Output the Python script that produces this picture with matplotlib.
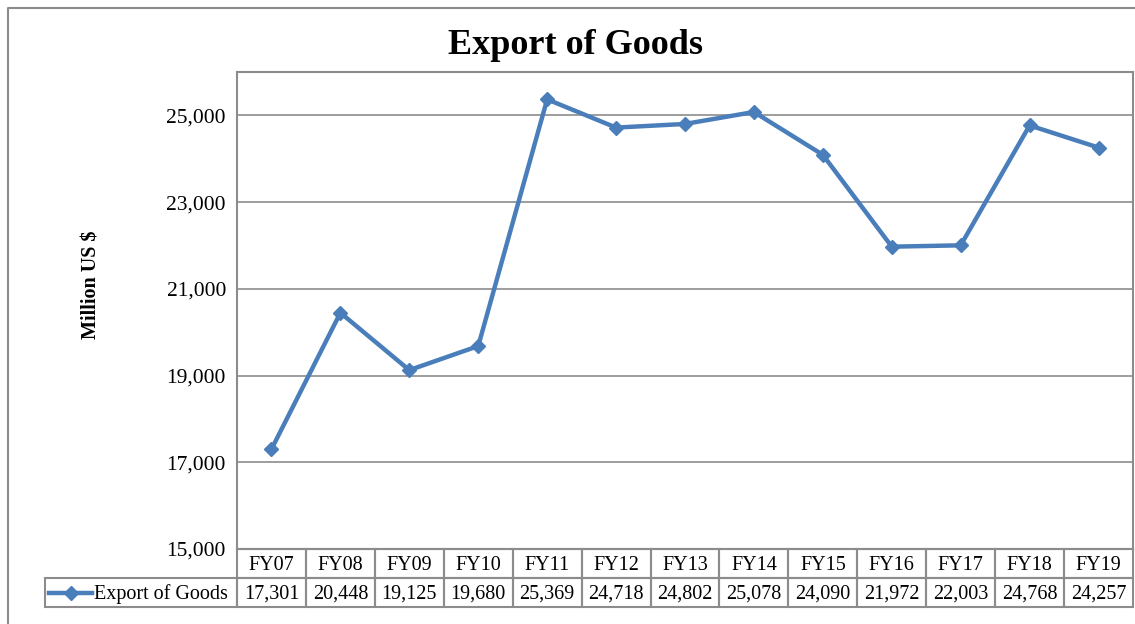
import matplotlib
matplotlib.use("Agg")
import matplotlib.pyplot as plt
from matplotlib.patches import Rectangle
from matplotlib.lines import Line2D
from matplotlib.ticker import FuncFormatter
import matplotlib.transforms as mtransforms

categories = ["FY07", "FY08", "FY09", "FY10", "FY11", "FY12", "FY13",
              "FY14", "FY15", "FY16", "FY17", "FY18", "FY19"]
exports = [17301, 20448, 19125, 19680, 25369, 24718, 24802,
           25078, 24090, 21972, 22003, 24768, 24257]
series_name = "Export of Goods"
title = "Export of Goods"
y_label = "Million US $"
y_ticks = [15000, 17000, 19000, 21000, 23000, 25000]

plt.rcParams['font.family'] = ['Liberation Serif', 'DejaVu Serif']

W, H = 1135, 624
fig = plt.figure(figsize=(W / 100, H / 100), dpi=100)

line_color = "#4a7ebb"
grid_color = "#8c8c8c"
fs = 14.5

# axes position in pixels
left, right, top, bottom = 237, 1133, 72, 549
ax = fig.add_axes([left / W, 1 - bottom / H, (right - left) / W, (bottom - top) / H])

x = list(range(len(categories)))
ax.plot(x, exports, color=line_color, lw=3.2, marker='D', markersize=7.5,
        markerfacecolor=line_color, markeredgecolor=line_color, zorder=3, clip_on=False)

ax.set_xlim(-0.5, len(categories) - 0.5)
ax.set_ylim(15000, 26000)
ax.set_yticks(y_ticks)
ax.yaxis.set_major_formatter(FuncFormatter(lambda v, p: f"{int(v):,}"))
ax.tick_params(axis='y', length=0, pad=8, labelsize=15.5)
ax.set_xticks([])
ax.grid(axis='y', color=grid_color, lw=1.2)
ax.set_axisbelow(True)
for s in ax.spines.values():
    s.set_color(grid_color)
    s.set_linewidth(1.5)

# data table below axes
row_h = 29 / (bottom - top)
dy = 2 / (bottom - top)
trans = mtransforms.blended_transform_factory(ax.transData, ax.transAxes)
cell_kw = dict(fill=False, edgecolor=grid_color, lw=1.5, clip_on=False)
for i, (c, v) in enumerate(zip(categories, exports)):
    ax.add_patch(Rectangle((i - 0.5, -row_h), 1, row_h, transform=trans, **cell_kw))
    ax.add_patch(Rectangle((i - 0.5, -2 * row_h), 1, row_h, transform=trans, **cell_kw))
    ax.text(i, -row_h / 2 - dy, c, transform=trans, ha='center', va='center', fontsize=fs)
    ax.text(i, -1.5 * row_h - dy, f"{v:,}", transform=trans, ha='center', va='center', fontsize=fs)

# legend cell
leg_left = (45 - left) / (right - left)
ax.add_patch(Rectangle((leg_left, -2 * row_h), -leg_left, row_h,
                       transform=ax.transAxes, **cell_kw))
lx0 = (49 - left) / (right - left)
lx1 = (92 - left) / (right - left)
ax.add_line(Line2D([lx0, lx1], [-1.5 * row_h, -1.5 * row_h], transform=ax.transAxes,
                   color=line_color, lw=3.2, clip_on=False))
ax.add_line(Line2D([(lx0 + lx1) / 2], [-1.5 * row_h], transform=ax.transAxes,
                   color=line_color, marker='D', markersize=7.5, clip_on=False))
ax.text((94 - left) / (right - left), -1.5 * row_h - dy, series_name, transform=ax.transAxes,
        ha='left', va='center', fontsize=fs)

# title and y label
fig.text(575 / W, 1 - 45 / H, title, ha='center', va='center', fontsize=26, fontweight='bold')
fig.text(91 / W, 1 - 285 / H, y_label, ha='center', va='center', rotation=90,
         fontsize=14.5, fontweight='bold')

# outer chart border (cut at right/bottom)
fig.add_artist(Line2D([8 / W, 8 / W, 1.0], [0.0, 1 - 8 / H, 1 - 8 / H],
                      transform=fig.transFigure, color=grid_color, lw=1.5))

fig.savefig("out.png", dpi=100)
